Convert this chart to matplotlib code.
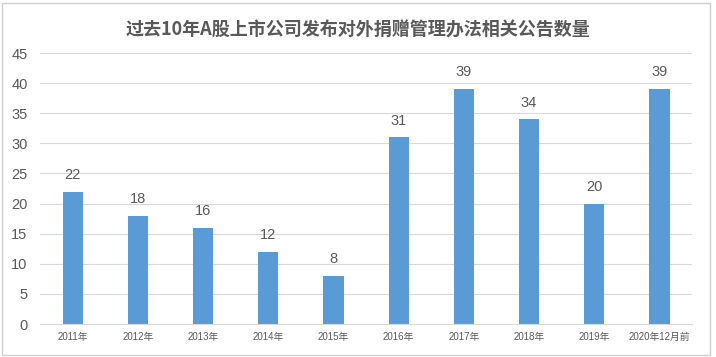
import matplotlib.pyplot as plt
from matplotlib.patches import Rectangle

plt.rcParams['font.family'] = ['Liberation Sans', 'Noto Sans CJK SC', 'DejaVu Sans']

# 数据
years = ['2011年', '2012年', '2013年', '2014年', '2015年',
         '2016年', '2017年', '2018年', '2019年', '2020年12月前']
counts = [22, 18, 16, 12, 8, 31, 39, 34, 20, 39]

bar_color = '#5B9BD5'
text_color = '#595959'
grid_color = '#D9D9D9'

fig = plt.figure(figsize=(7.16, 3.57), dpi=100)
ax = fig.add_axes([0.0559, 0.0924, 0.9106, 0.7591])

# 外框
fig.patches.append(Rectangle((0.003, 0.006), 0.989, 0.986, transform=fig.transFigure,
                             fill=False, edgecolor='#D0D0D0', linewidth=1))

x = range(len(years))
bars = ax.bar(x, counts, width=0.31, color=bar_color, zorder=3)

for xi, v in zip(x, counts):
    ax.annotate(str(v), (xi, v), xytext=(0, 7), textcoords='offset points',
                ha='center', va='bottom', fontsize=10.5, color=text_color)

ax.set_xlim(-0.5, len(years) - 0.5)
ax.set_ylim(0, 45)
ax.set_yticks(range(0, 46, 5))
ax.set_xticks(list(x))
ax.set_xticklabels(years, fontsize=7, color=text_color)
ax.tick_params(axis='y', length=0, pad=9, labelsize=10.5, labelcolor=text_color)
ax.tick_params(axis='x', length=0, pad=6)
ax.grid(axis='y', color=grid_color, linewidth=0.8, zorder=0)

for s in ['top', 'right', 'left']:
    ax.spines[s].set_visible(False)
ax.spines['bottom'].set_color(grid_color)
ax.spines['bottom'].set_zorder(4)

fig.text(0.5, 0.915, '过去10年A股上市公司发布对外捐赠管理办法相关公告数量',
         ha='center', va='center', fontsize=13, fontweight='bold', color=text_color,
         family=['Noto Sans CJK SC', 'DejaVu Sans'])

fig.savefig('out.png', dpi=100)
